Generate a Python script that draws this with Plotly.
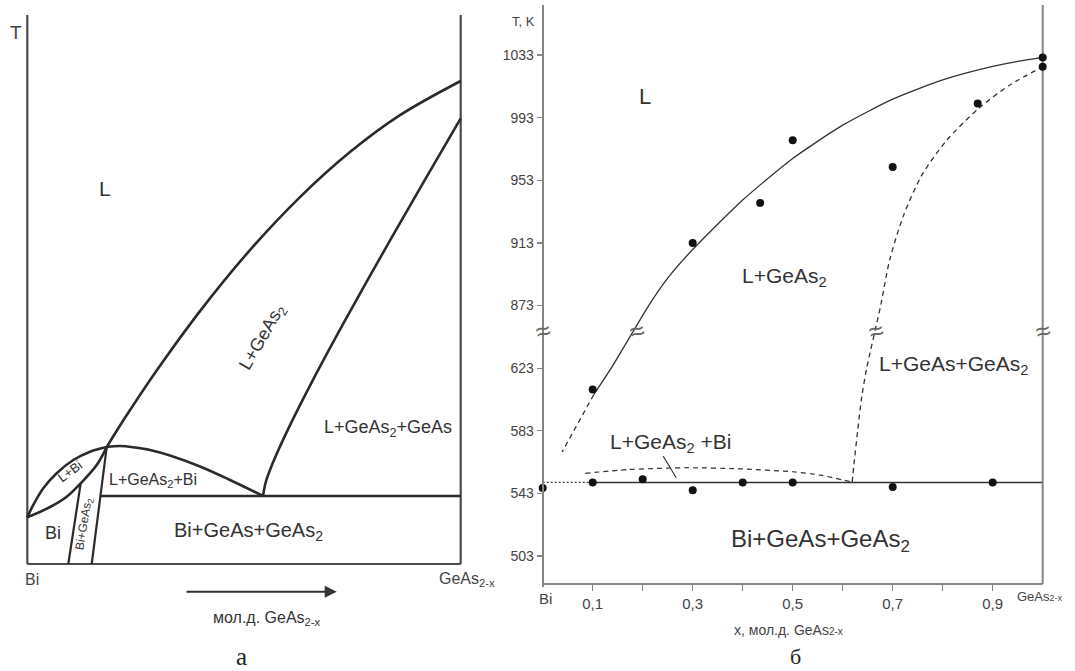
import plotly.graph_objects as go

W, H = 1075, 671

# ================= Panel "а" (schematic) =================
# x: mole fraction GeAs2-x (0 = Bi, 1 = GeAs2-x); t: relative temperature (0..100)
a_liq_x = [0.1832, 0.2070, 0.2416, 0.2993, 0.3985, 0.5138, 0.6292, 0.7446, 0.8599, 1.0]
a_liq_t = [21.3, 24.37, 28.60, 35.34, 46.07, 57.18, 66.83, 75.03, 81.75, 87.98]

a_sol_x = [0.5438, 0.5507, 0.5669, 0.6015, 0.6592, 0.7284, 0.8207, 0.9130, 1.0]
a_sol_t = [12.39, 15.05, 18.49, 24.52, 33.53, 43.68, 56.69, 69.36, 81.18]

a_hump_x = [0.1832, 0.2139, 0.2485, 0.2831, 0.3293, 0.3985, 0.4677, 0.5438]
a_hump_t = [21.3, 21.49, 21.22, 20.77, 19.76, 17.76, 15.30, 12.39]

a_lens_up_x = [0.0, 0.0138, 0.0369, 0.0678, 0.1061, 0.1447, 0.1832]
a_lens_up_t = [8.51, 10.75, 13.79, 16.52, 18.94, 20.46, 21.3]

a_lens_lo_x = [0.0, 0.0524, 0.0909, 0.1232, 0.1601, 0.1832]
a_lens_lo_t = [8.51, 10.38, 12.26, 14.70, 18.03, 21.3]

a_strip_l_x = [0.1232, 0.0946]
a_strip_l_t = [14.70, 0.0]
a_strip_r_x = [0.1832, 0.1486]
a_strip_r_t = [21.3, 0.0]

a_eut_x = [0.1687, 1.0]
a_eut_t = [12.39, 12.39]

a_frame_x = [[0, 0], [1, 1], [0, 1]]
a_frame_t = [[0, 100], [0, 100], [0, 0]]

# ================= Panel "б" (experimental) =================
b_ticks_T = [503, 543, 583, 623, 873, 913, 953, 993, 1033]
b_xticks = [0.1, 0.3, 0.5, 0.7, 0.9]
b_xticklabels = ["0,1", "0,3", "0,5", "0,7", "0,9"]
b_xminor = [0.2, 0.4, 0.6, 0.8]

# liquidus (solid)
b_liq_x = [1.0, 0.95, 0.9, 0.8, 0.7, 0.6, 0.5, 0.4, 0.3, 0.25, 0.212, 0.137, 0.102]
b_liq_T = [1031.5, 1028.9, 1025.7, 1017.1, 1004.8, 988.2, 966.9, 940.4, 908.8, 890.5, 873, 623, 606]
# liquidus extrapolation (dashed)
b_liqd_x = [0.102, 0.039]
b_liqd_T = [606, 569.5]

# dashed boundary L+GeAs2 / L+GeAs+GeAs2
b_sol_x = [0.619, 0.622, 0.630, 0.638, 0.648, 0.676, 0.694, 0.722, 0.758, 0.808, 0.872, 0.936, 1.0]
b_sol_T = [550.2, 560, 583.2, 604.5, 623, 873, 902.2, 930.8, 956.1, 978.5, 998.9, 1014.2, 1025.5]

# eutectic line
b_eut_x = [0.1, 1.0]
b_eut_T = [550, 550]
b_eutd_x = [0.0, 0.1]
b_eutd_T = [550, 550]

# dashed hump L+GeAs2+Bi
b_hump_x = [0.085, 0.17, 0.29, 0.40, 0.50, 0.555, 0.619]
b_hump_T = [555.8, 558.2, 559.4, 558.6, 556.8, 554.7, 550.2]

# leader from label
b_lead_x = [0.241, 0.267]
b_lead_T = [566.8, 553]

# experimental points
b_pts_x = [0.0, 0.1, 0.2, 0.3, 0.4, 0.5, 0.7, 0.9, 0.1, 0.3, 0.435, 0.5, 0.7, 0.87, 1.0, 1.0]
b_pts_T = [546.5, 550, 552, 545, 550, 550, 547, 550, 609.4, 913, 938.5, 978.6, 961.5, 1002, 1031.5, 1025.5]

# axis break position (between 623 and 873)
b_break_pos = 3.59
b_break_x = [0.0, 0.189, 0.666, 1.0]


def tpos(T):
    """Broken temperature axis: 503..623 and 873..1033, 40 K per unit."""
    return (T - 503) / 40 if T <= 700 else 4 + (T - 873) / 40


def tp(lst):
    return [tpos(v) for v in lst]


# ---------- geometry ----------
FONT = "Liberation Sans, Arial, sans-serif"
SERIF = "Liberation Serif, Times New Roman, serif"
DARK = "#2b2b2b"
GREY = "#858585"

# panel a pixel anchors
a_px0, a_px1 = 27.3, 460.7     # x=0, x=1
a_py0, a_py1 = 564.0, 15.0     # t=0, t=100
a_xr = [-0.05, 1.05]
a_yr = [-3, 102]
a_sx = (a_px1 - a_px0)
a_sy = (a_py0 - a_py1) / 100.0

# panel b pixel anchors
b_px0, b_px1 = 542.7, 1042.7   # x=0, x=1
b_py0 = 556.0                   # pos 0 (503 K)
b_sy = 62.62                    # px per pos unit
b_xr = [-0.03, 1.03]
b_yr = [-0.5, 8.8]
b_bottom = -0.447               # bottom axis line position
b_sx = b_px1 - b_px0


def xdom(px0, sx, xr):
    return [(px0 + xr[0] * sx) / W, (px0 + xr[1] * sx) / W]


a_xdom = xdom(a_px0, a_sx, a_xr)
a_ydom = [(H - (a_py0 - a_yr[0] * a_sy)) / H, (H - (a_py0 - a_yr[1] * a_sy)) / H]
b_xdom = xdom(b_px0, b_sx, b_xr)
b_ydom = [(H - (b_py0 - b_yr[0] * b_sy)) / H, (H - (b_py0 - b_yr[1] * b_sy)) / H]


def to_paper(v, rng, dom):
    return dom[0] + (v - rng[0]) / (rng[1] - rng[0]) * (dom[1] - dom[0])


fig = go.Figure()


def aline(x, t, width=2.6, color=DARK):
    fig.add_trace(go.Scatter(x=x, y=t, mode="lines", xaxis="x", yaxis="y",
                             line=dict(color=color, width=width, shape="spline", smoothing=1.0),
                             hoverinfo="skip"))


for fx, ft in zip(a_frame_x, a_frame_t):
    fig.add_trace(go.Scatter(x=fx, y=ft, mode="lines", xaxis="x", yaxis="y",
                             line=dict(color="#4a4a4a", width=2.2), hoverinfo="skip"))

aline(a_liq_x, a_liq_t)
aline(a_sol_x, a_sol_t)
aline(a_hump_x, a_hump_t)
aline(a_lens_up_x, a_lens_up_t)
aline(a_lens_lo_x, a_lens_lo_t)
aline(a_strip_l_x, a_strip_l_t, width=2.2)
aline(a_strip_r_x, a_strip_r_t, width=2.2)
aline(a_eut_x, a_eut_t, width=2.4)


def bline(x, T, dash="solid", width=1.3, color="#333333", smooth=0.6):
    fig.add_trace(go.Scatter(x=x, y=tp(T), mode="lines", xaxis="x2", yaxis="y2",
                             line=dict(color=color, width=width, dash=dash, shape="spline", smoothing=smooth),
                             hoverinfo="skip"))


bline(b_liq_x, b_liq_T, smooth=0.6)
bline(b_liqd_x, b_liqd_T, dash="5px,4px")
bline(b_sol_x, b_sol_T, dash="5px,4px", smooth=0.8)
bline(b_eut_x, b_eut_T, width=1.5)
bline(b_eutd_x, b_eutd_T, dash="2px,2px", width=1.1)
bline(b_hump_x, b_hump_T, dash="5px,4px", width=1.2)
bline(b_lead_x, b_lead_T, width=1.1)

# frame of panel b (bottom and right)
fig.add_trace(go.Scatter(x=[0, 1], y=[b_bottom, b_bottom], mode="lines", xaxis="x2", yaxis="y2",
                         line=dict(color=GREY, width=2), hoverinfo="skip"))
fig.add_trace(go.Scatter(x=[1, 1], y=[b_bottom, b_yr[1]], mode="lines", xaxis="x2", yaxis="y2",
                         line=dict(color=GREY, width=2), hoverinfo="skip"))

fig.add_trace(go.Scatter(x=b_pts_x, y=tp(b_pts_T), mode="markers", xaxis="x2", yaxis="y2",
                         marker=dict(color="#111111", size=8), hoverinfo="skip"))

# ---------- annotations (placed in paper coords converted from data coords) ----------
ann = []


def a_text(x, t, text, size, angle=0, color="#333333", font=FONT, xanchor="center"):
    ann.append(dict(x=to_paper(x, a_xr, a_xdom), y=to_paper(t, a_yr, a_ydom),
                    xref="paper", yref="paper", text=text, showarrow=False,
                    xanchor=xanchor, yanchor="middle",
                    textangle=angle, font=dict(family=font, size=size, color=color)))


def b_text(x, p, text, size, color="#333333", font=FONT, xanchor="center", angle=0):
    ann.append(dict(x=to_paper(x, b_xr, b_xdom), y=to_paper(p, b_yr, b_ydom),
                    xref="paper", yref="paper", text=text, showarrow=False,
                    xanchor=xanchor, yanchor="middle", textangle=angle,
                    font=dict(family=font, size=size, color=color)))


a_text(-0.026, 96.9, "T", 19, color="#444444")
a_text(0.1793, 68.4, "L", 21)
a_text(0.5445, 41.2, "L+GeAs<sub>2</sub>", 18, angle=-60)
a_text(0.8330, 24.7, "L+GeAs<sub>2</sub>+GeAs", 18)
a_text(0.2907, 15.3, "L+GeAs<sub>2</sub>+Bi", 16)
a_text(0.0985, 16.8, "L+Bi", 13, angle=-36)
a_text(0.0600, 5.7, "Bi", 18)
a_text(0.1331, 7.4, "Bi+GeAs<sub>2</sub>", 12, angle=-81)
a_text(0.5099, 5.9, "Bi+GeAs+GeAs<sub>2</sub>", 20)
a_text(0.0100, -2.8, "Bi", 16, color="#444444")
a_text(0.945, -2.8, "GeAs<sub>2-x</sub>", 16, color="#444444", xanchor="left")
a_text(0.5540, -9.85, "мол.д. GeAs<sub>2-x</sub>", 16, color="#333333")
a_text(0.4946, -16.8, "a", 25, font=SERIF, color="#222222")
# arrow (tail -> head along composition direction)
arrow_tail, arrow_head, arrow_t = 0.3639, 0.7139, -5.05
ann.append(dict(x=to_paper(arrow_head, a_xr, a_xdom), y=to_paper(arrow_t, a_yr, a_ydom),
                xref="paper", yref="paper", ax=-(arrow_head - arrow_tail) * a_sx, ay=0,
                axref="pixel", ayref="pixel", text="", showarrow=True, arrowhead=2,
                arrowsize=1.2, arrowwidth=2, arrowcolor="#333333"))

b_text(-0.011, 8.53, "T, K", 13, color="#444444", xanchor="right")
b_text(0.204, 7.335, "L", 22)
b_text(0.484, 4.46, "L+GeAs<sub>2</sub>", 21)
b_text(0.822, 3.05, "L+GeAs+GeAs<sub>2</sub>", 21)
b_text(0.2546, 1.80, "L+GeAs<sub>2</sub> +Bi", 21)
b_text(0.555, 0.2555, "Bi+GeAs+GeAs<sub>2</sub>", 24)
b_text(0.0046, -0.671, "Bi", 15, color="#444444")
b_text(0.944, -0.64, "GeAs<span style='font-size:9px'>2-x</span>", 13, color="#444444", xanchor="left")
b_text(0.4906, -1.18, "x, мол.д. GeAs<span style='font-size:10px'>2-x</span>", 14, color="#444444")
b_text(0.5046, -1.60, "б", 22, font=SERIF, color="#222222")
for bx in b_break_x:
    b_text(bx, b_break_pos, "≈", 26, color="#666666", angle=-15)

# ---------- axes ----------
b_yaxis_pos = to_paper(0.0, b_xr, b_xdom)
b_xaxis_pos = to_paper(b_bottom, b_yr, b_ydom)

hidden = dict(visible=False, showgrid=False, zeroline=False, fixedrange=True)

fig.update_layout(
    width=W, height=H,
    margin=dict(l=0, r=0, t=0, b=0),
    paper_bgcolor="white", plot_bgcolor="rgba(0,0,0,0)",
    showlegend=False,
    xaxis=dict(hidden, domain=a_xdom, range=a_xr),
    yaxis=dict(hidden, domain=a_ydom, range=a_yr),
    xaxis2=dict(domain=b_xdom, range=b_xr, anchor="free", position=b_xaxis_pos,
                showline=False, showgrid=False, zeroline=False,
                tickvals=b_xticks, ticktext=b_xticklabels, ticks="outside",
                ticklen=6, tickwidth=1.2, tickcolor=GREY,
                minor=dict(tickvals=b_xminor, ticks="outside", ticklen=6, tickwidth=1.2,
                           tickcolor=GREY, showgrid=False),
                tickfont=dict(family=FONT, size=15, color="#444444")),
    yaxis2=dict(domain=b_ydom, range=b_yr, anchor="free", position=b_yaxis_pos,
                showline=True, linecolor=GREY, linewidth=2,
                showgrid=False, zeroline=False,
                tickvals=tp(b_ticks_T), ticktext=[str(v) for v in b_ticks_T],
                ticks="outside", ticklen=5, tickwidth=1.2, tickcolor=GREY,
                tickfont=dict(family=FONT, size=14, color="#444444")),
    annotations=ann,
)

fig.write_html("out.html", config={"displayModeBar": False, "staticPlot": True},
               post_script="document.body.style.margin='0';document.body.style.overflow='hidden';")
